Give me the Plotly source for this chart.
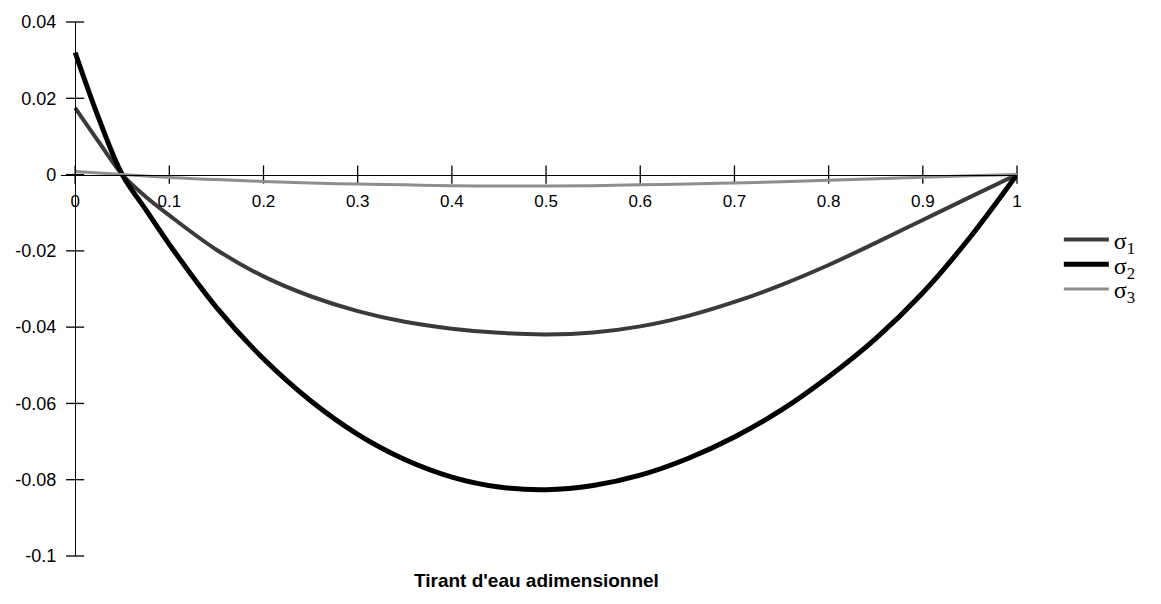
import plotly.graph_objects as go

# Dimensionless draught positions
x_vals = [0.0, 0.025, 0.05, 0.075, 0.10, 0.15, 0.20, 0.25, 0.30, 0.35, 0.40,
          0.45, 0.50, 0.55, 0.60, 0.65, 0.70, 0.75, 0.80, 0.85, 0.90, 0.95, 1.0]

sigma1 = [0.0175, 0.0086, 0.0, -0.0058, -0.0107, -0.0197, -0.0267, -0.0319,
          -0.0358, -0.0386, -0.0404, -0.0415, -0.0419, -0.0414, -0.0398,
          -0.0371, -0.0334, -0.0289, -0.0237, -0.0179, -0.0119, -0.0059, 0.0]

sigma2 = [0.032, 0.0148, 0.0, -0.0092, -0.0183, -0.0348, -0.0483, -0.0593,
          -0.0681, -0.0747, -0.0793, -0.0819, -0.0826, -0.0815, -0.0788,
          -0.0745, -0.0688, -0.0617, -0.053, -0.043, -0.031, -0.0165, 0.0]

sigma3 = [0.0008, 0.0004, 0.0, -0.0004, -0.0008, -0.0013, -0.0018, -0.0022,
          -0.0025, -0.0027, -0.0029, -0.003, -0.003, -0.0029, -0.0027,
          -0.0025, -0.0022, -0.0019, -0.0015, -0.0011, -0.0007, -0.0003, 0.0]

series_names = ["σ<sub>1</sub>", "σ<sub>2</sub>", "σ<sub>3</sub>"]

x_ticks = [0, 0.1, 0.2, 0.3, 0.4, 0.5, 0.6, 0.7, 0.8, 0.9, 1]
x_tick_text = ["0", "0.1", "0.2", "0.3", "0.4", "0.5", "0.6", "0.7", "0.8", "0.9", "1"]
y_ticks = [0.04, 0.02, 0, -0.02, -0.04, -0.06, -0.08, -0.1]
y_tick_text = ["0.04", "0.02", "0", "-0.02", "-0.04", "-0.06", "-0.08", "-0.1"]

X_RANGE = [-0.015, 1.0]
Y_RANGE = [-0.1, 0.04]

# paper fractions where the axes cross the origin
x_axis_pos = (0 - Y_RANGE[0]) / (Y_RANGE[1] - Y_RANGE[0])
y_axis_pos = (0 - X_RANGE[0]) / (X_RANGE[1] - X_RANGE[0])

FONT = "Liberation Sans, Arial, sans-serif"
SERIF = "Liberation Serif, Times New Roman, serif"

fig = go.Figure()

# tick marks that cross the axis lines
fig.add_trace(go.Scatter(x=x_ticks, y=[0] * len(x_ticks), mode="markers",
                         marker=dict(symbol="line-ns", size=13,
                                     line=dict(color="black", width=1.3)),
                         showlegend=False, hoverinfo="skip", cliponaxis=False))
fig.add_trace(go.Scatter(x=[0] * len(y_ticks), y=y_ticks, mode="markers",
                         marker=dict(symbol="line-ew", size=13,
                                     line=dict(color="black", width=1.3)),
                         showlegend=False, hoverinfo="skip", cliponaxis=False))

styles = [dict(color="#3a3a3a", width=4),
          dict(color="#000000", width=5),
          dict(color="#8e8e8e", width=3)]
legend_ids = ["legend", "legend2", "legend3"]
for ys, name, st, lg in zip([sigma1, sigma2, sigma3], series_names, styles, legend_ids):
    fig.add_trace(go.Scatter(x=x_vals, y=ys, mode="lines", name=name, legend=lg,
                             line=dict(shape="spline", smoothing=1.0, **st)))

axis_common = dict(showgrid=False, zeroline=False, ticks="")

# one legend per series so each entry can sit at its own height
legend_tops = [0.640, 0.599, 0.558]
legend_common = dict(xref="container", yref="container", x=0.912,
                     xanchor="left", yanchor="top", bgcolor="rgba(0,0,0,0)",
                     font=dict(size=24, family=SERIF), itemwidth=45)

fig.update_layout(
    width=1161, height=604,
    margin=dict(l=61, r=144, t=18, b=48),
    paper_bgcolor="white", plot_bgcolor="white",
    font=dict(family=FONT, color="black", size=18),
    xaxis=dict(range=X_RANGE, anchor="free", position=x_axis_pos,
               showline=True, linecolor="black", linewidth=1.3,
               tickvals=x_ticks, ticktext=x_tick_text, ticklabelstandoff=11,
               tickfont=dict(size=17), **axis_common),
    yaxis=dict(range=Y_RANGE, anchor="free", position=y_axis_pos,
               showline=True, linecolor="black", linewidth=1.3,
               tickvals=y_ticks, ticktext=y_tick_text, ticklabelstandoff=15,
               tickfont=dict(size=18), **axis_common),
    legend=dict(y=legend_tops[0], **legend_common),
    legend2=dict(y=legend_tops[1], **legend_common),
    legend3=dict(y=legend_tops[2], **legend_common),
    showlegend=True,
)

fig.add_annotation(text="<b>Tirant d'eau adimensionnel</b>", xref="paper", yref="paper",
                   x=(0.49 - X_RANGE[0]) / (X_RANGE[1] - X_RANGE[0]), y=-0.045,
                   xanchor="center", yanchor="middle", showarrow=False,
                   font=dict(size=19, family=FONT))

fig.write_html("out.html")
